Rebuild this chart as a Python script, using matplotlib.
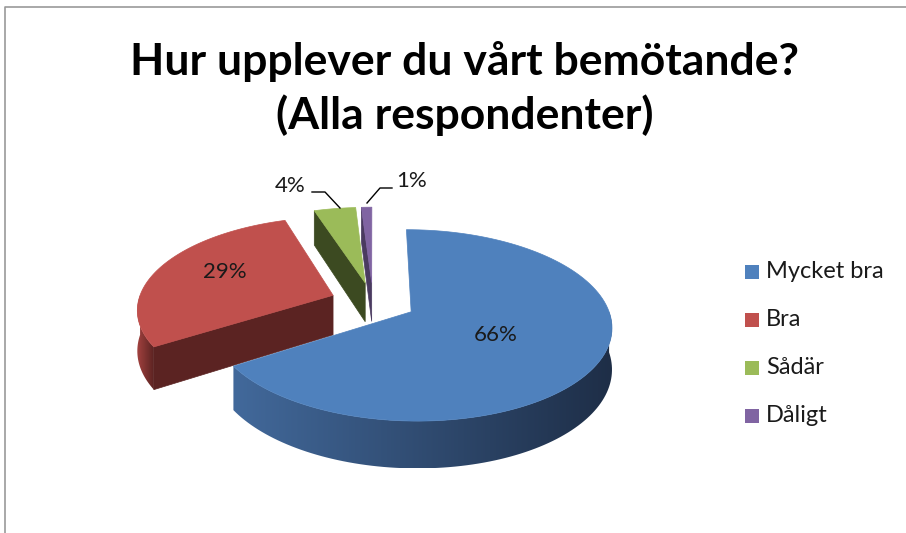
import matplotlib.pyplot as plt
import numpy as np
from matplotlib.patches import Polygon, Rectangle
from matplotlib.colors import to_rgb, LinearSegmentedColormap

# data
labels = ['Mycket bra', 'Bra', 'Sådär', 'Dåligt']
shares = [66, 29, 4, 1]
pct_labels = ['66%', '29%', '4%', '1%']
title_lines = ['Hur upplever du vårt bemötande?', '(Alla respondenter)']

top_colors = ['#4F81BD', '#C0504D', '#9BBB59', '#8064A2']
side_light = ['#42699B', '#A3423F', '#62773A', '#6A5488']
side_dark = ['#1E2E47', '#5B2322', '#3C4A21', '#4A3A60']

plt.rcParams['font.family'] = ['Lato', 'DejaVu Sans']

fig = plt.figure(figsize=(9.06, 5.33), dpi=100)
ax = fig.add_axes([0, 0, 1, 1])
ax.set_xlim(0, 906)
ax.set_ylim(533, 0)
ax.axis('off')

# chart frame (only top/left edges visible in the crop)
ax.plot([5, 5, 906], [533, 7, 7], color='#9A9A9A', lw=1.2)

# pseudo-3D pie geometry
cx, cy = 373, 302
a, b, depth = 195, 91, 40
persp = 0.14
explode = 0.22


def proj(U, V, h):
    s = 1.0 / (1 + persp * V)
    return cx + a * U * s, cy - b * V * s + depth * h * s


total = sum(shares)
bounds = np.concatenate([[0], np.cumsum(shares)]) / total * 360.0

for i in [3, 2, 1, 0]:
    t0, t1 = np.radians(bounds[i]), np.radians(bounds[i + 1])
    tm = (t0 + t1) / 2
    eu, ev = explode * np.sin(tm), explode * np.cos(tm)

    def pt(t, r, h):
        return proj(eu + r * np.sin(t), ev + r * np.cos(t), h)

    # outer curved side, front half only, shaded light (left) to dark (right)
    lo, hi = max(t0, np.pi / 2), min(t1, 3 * np.pi / 2)
    if hi > lo:
        ts = np.linspace(lo, hi, 100)
        side = [pt(t, 1, 0) for t in ts] + [pt(t, 1, 1) for t in ts[::-1]]
        poly = Polygon(side, closed=True, fc='none', ec='none')
        ax.add_patch(poly)
        xs = [p[0] for p in side]
        ys = [p[1] for p in side]
        cmap = LinearSegmentedColormap.from_list('s', [side_light[i], side_dark[i]])
        grad = np.linspace(0, 1, 256).reshape(1, -1)
        im = ax.imshow(grad, cmap=cmap, aspect='auto', interpolation='bilinear',
                       extent=[min(xs), max(xs), max(ys), min(ys)], zorder=1)
        im.set_clip_path(poly)

    # radial faces
    for t, nrm in [(t0, t0 - np.pi / 2), (t1, t1 + np.pi / 2)]:
        if np.cos(nrm) < 0:
            face = [pt(t, 0, 0), pt(t, 1, 0), pt(t, 1, 1), pt(t, 0, 1)]
            ax.add_patch(Polygon(face, closed=True, fc=side_dark[i],
                                 ec=side_dark[i], lw=0.5, zorder=1))

    # top face
    ts = np.linspace(t0, t1, 120)
    top = [pt(0, 0, 0)] + [pt(t, 1, 0) for t in ts]
    ax.add_patch(Polygon(top, closed=True, fc=top_colors[i],
                         ec=top_colors[i], lw=0.5, zorder=1))

ax.set_xlim(0, 906)
ax.set_ylim(533, 0)

# data labels
lab_kw = dict(fontsize=16, ha='center', va='center', color='#1A1A1A', zorder=3)
ax.text(496, 335, pct_labels[0], **lab_kw)
ax.text(225, 272, pct_labels[1], **lab_kw)
ax.text(290, 186, pct_labels[2], **lab_kw)
ax.text(412, 181, pct_labels[3], **lab_kw)
ax.plot([312, 325, 340], [192, 192, 208], color='black', lw=1, zorder=3)
ax.plot([392, 380, 367], [188, 188, 203], color='black', lw=1, zorder=3)

# title
ax.text(465, 75, title_lines[0], fontsize=32, fontweight='bold', ha='center', va='baseline')
ax.text(465, 129, title_lines[1], fontsize=32, fontweight='bold', ha='center', va='baseline')

# legend
for k, lab in enumerate(labels):
    y = 272 + k * 48
    ax.add_patch(Rectangle((745, y - 7), 14, 14, fc=top_colors[k], ec='none'))
    ax.text(766, y, lab, fontsize=17, ha='left', va='center', color='#1A1A1A')

fig.savefig('out.png', dpi=100)
